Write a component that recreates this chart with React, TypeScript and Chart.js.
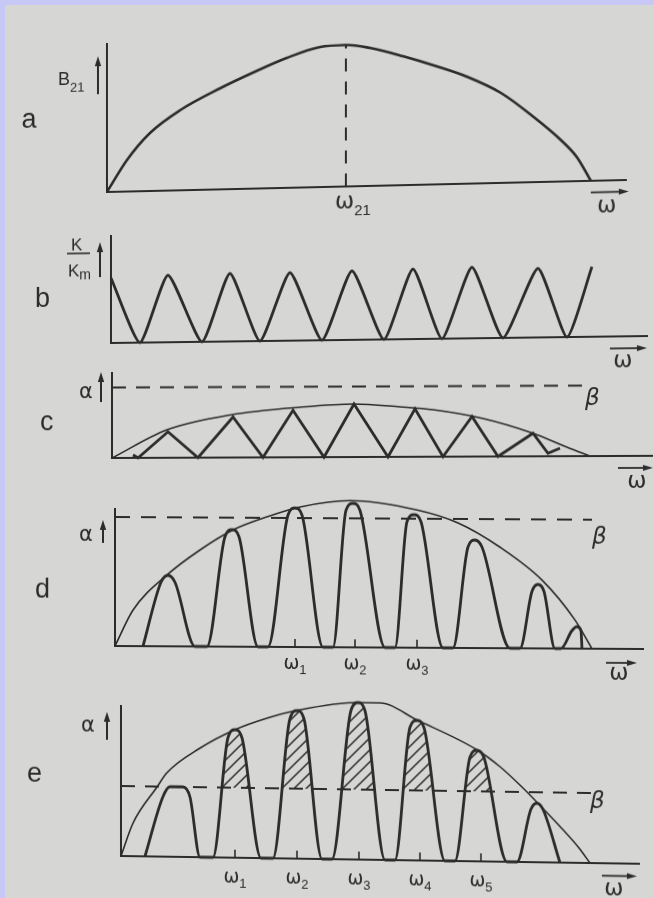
import { useEffect, useRef } from 'react';
import { Chart, registerables } from 'chart.js';

Chart.register(...registerables);

const PAGE_W = 654;
const PAGE_H = 898;
const INK = '#2c2c2c';
const PAPER = '#d6d6d4';
const FRAME = '#c8c8f6';
const SANS = '"Liberation Sans", Arial, sans-serif';
const GREEK = '"DejaVu Sans", sans-serif';

// (a) coupling B21 over ω
const aOmega = [0, 20, 43, 73, 113, 146, 180, 213, 239, 263, 296, 330, 360, 394, 427, 454, 470, 484];
const aB21 = [0, 31.5, 58, 80, 101, 116, 130, 140, 141.5, 138, 129, 118, 107, 90, 65, 41.5, 24, 0];

// (b) K/Km over ω
const bOmega = [0, 29, 57, 91, 119, 149, 179, 211, 241, 273, 302, 331, 361, 392, 427, 456, 481];
const bK = [65, 0, 67, 0, 68, 0, 68, 0, 69, 0, 70, 0, 71, 0, 69, 0, 70];

// (c) gain α, its envelope and the loss level β
const cOmega = [21, 26, 56, 86, 121, 151, 181, 212, 242, 276, 303, 331, 360, 386, 421, 436, 448];
const cAlpha = [3, 0, 26, 0, 40.5, 0, 47, 0, 53, 0, 48, 0, 40, 0, 23, 3, 8];
const cEnvOmega = [0, 55, 118, 188, 242, 288, 321, 371, 421, 455, 478];
const cEnv = [0, 28, 42.5, 50, 53, 50, 47, 38, 23, 9, 0];
const cBetaOmega = [0, 473];
const cBeta = [70.5, 70.5];

// (d)
const dOmega = [28, 46, 53, 60, 80, 92, 110, 117, 124, 143, 153, 173, 180, 187, 208, 218, 231, 238, 245, 270, 280, 292, 299, 306, 328, 338, 353, 360, 367, 395, 405, 417, 423, 429, 440, 446, 457, 462, 466, 467];
const dAlpha = [0, 64, 71, 64, 0, 0, 110, 117, 110, 0, 0, 132, 139, 132, 0, 0, 137, 144, 137, 0, 0, 126, 133, 126, 0, 0, 101, 108, 101, 0, 0, 57, 64, 57, 0, 0, 18, 22, 18, 0];
const dEnvOmega = [0, 18, 52, 85, 118, 152, 185, 235, 302, 343, 385, 427, 460, 477];
const dEnv = [0, 36, 71.3, 96.5, 116.7, 130, 140, 146.7, 137.7, 125, 101, 68.4, 28.6, 0];
const dBetaOmega = [0, 477];
const dBeta = [129, 129];
const dTicks = [180, 240, 302];
const dTickLabels = ['1', '2', '3'];

// (e)
const eOmega = [24, 42, 49, 62, 69, 79, 92, 107, 114, 121, 140, 152, 169, 176, 183, 201, 211, 230, 237, 244, 264, 274, 289, 296, 303, 324, 334, 349, 356, 363, 386, 396, 410, 416, 422, 439];
const eAlpha = [0, 60, 70, 70, 60, 0, 0, 120, 128, 120, 0, 0, 140, 148, 140, 0, 0, 149, 157, 149, 0, 0, 133, 140, 133, 0, 0, 104, 111, 104, 0, 0, 53, 59, 53, 0];
const eEnvOmega = [0, 12, 36, 46, 79, 114, 146, 175, 237, 259, 296, 356, 379, 400, 416, 441, 458, 469];
const eEnv = [0, 33, 69.5, 84, 109, 128, 140, 148, 157, 157, 140.4, 111.5, 95, 76, 60, 34, 15, 0];
const eBetaOmega = [0, 471];
const eBeta = [70, 70];
const eTicks = [114, 176, 238, 299, 360];
const eTickLabels = ['1', '2', '3', '4', '5'];

// where each panel's origin sits on the page, how long its axes are, and the slight lean of the print
const PANELS = [
  { x0: 107, y0: 192, lean: -0.0231, xEnd: 520, yTop: 149 },
  { x0: 111, y0: 343, lean: -0.013, xEnd: 537, yTop: 108 },
  { x0: 112, y0: 458, lean: -0.004, xEnd: 541, yTop: 86 },
  { x0: 115, y0: 646, lean: 0.0057, xEnd: 529, yTop: 138 },
  { x0: 121, y0: 856, lean: 0.015, xEnd: 519, yTop: 151 },
];

type Ctx = CanvasRenderingContext2D;

function pts(xs: number[], ys: number[]) {
  return xs.map((x, i) => ({ x, y: ys[i] }));
}

function txt(ctx: Ctx, s: string, x: number, y: number, font: string, align: CanvasTextAlign = 'left') {
  ctx.font = font;
  ctx.textAlign = align;
  ctx.textBaseline = 'alphabetic';
  ctx.fillStyle = INK;
  ctx.fillText(s, x, y);
}

function withSub(ctx: Ctx, main: string, sub: string, x: number, y: number, mainFont: string, subFont: string, drop: number, align: 'left' | 'center') {
  ctx.font = mainFont;
  const mw = ctx.measureText(main).width;
  ctx.font = subFont;
  const sw = ctx.measureText(sub).width;
  const left = align === 'center' ? x - (mw + sw) / 2 : x;
  txt(ctx, main, left, y, mainFont);
  txt(ctx, sub, left + mw, y + drop, subFont);
}

function arrowUp(ctx: Ctx, x: number, yBottom: number, yTop: number) {
  ctx.save();
  ctx.strokeStyle = INK;
  ctx.fillStyle = INK;
  ctx.lineWidth = 2;
  ctx.beginPath();
  ctx.moveTo(x, yBottom);
  ctx.lineTo(x, yTop + 6);
  ctx.stroke();
  ctx.beginPath();
  ctx.moveTo(x, yTop);
  ctx.lineTo(x - 3.2, yTop + 10);
  ctx.lineTo(x + 3.2, yTop + 10);
  ctx.closePath();
  ctx.fill();
  ctx.restore();
}

function arrowRight(ctx: Ctx, x1: number, x2: number, y: number) {
  ctx.save();
  ctx.strokeStyle = INK;
  ctx.fillStyle = INK;
  ctx.lineWidth = 1.8;
  ctx.beginPath();
  ctx.moveTo(x1, y);
  ctx.lineTo(x2 - 6, y);
  ctx.stroke();
  ctx.beginPath();
  ctx.moveTo(x2, y);
  ctx.lineTo(x2 - 10, y - 3);
  ctx.lineTo(x2 - 10, y + 3);
  ctx.closePath();
  ctx.fill();
  ctx.restore();
}

function makeHatch(): CanvasPattern | string {
  const s = 12;
  const c = document.createElement('canvas');
  c.width = s;
  c.height = s;
  const g = c.getContext('2d');
  if (!g) return 'rgba(0,0,0,0)';
  g.strokeStyle = INK;
  g.lineWidth = 1.5;
  g.beginPath();
  g.moveTo(-1, s + 1);
  g.lineTo(s + 1, -1);
  g.moveTo(-2, 2);
  g.lineTo(2, -2);
  g.moveTo(s - 2, s + 2);
  g.lineTo(s + 2, s - 2);
  g.stroke();
  const p = g.createPattern(c, 'repeat');
  return p ?? 'rgba(0,0,0,0)';
}

const LETTER = `27px ${SANS}`;
const OMEGA = `23px ${GREEK}`;
const OMEGA_TICK = `19px ${GREEK}`;
const SUB = `13px ${SANS}`;
const ALPHA = `21px ${GREEK}`;
const BETA = `italic 23px ${GREEK}`;

function curve(xs: number[], ys: number[], width: number, extra: Record<string, unknown> = {}) {
  return {
    data: pts(xs, ys),
    borderColor: INK,
    borderWidth: width,
    pointRadius: 0,
    fill: false,
    cubicInterpolationMode: 'monotone',
    ...extra,
  };
}

function dashed(xs: number[], ys: number[], dash: number[]) {
  return {
    data: pts(xs, ys),
    borderColor: INK,
    borderWidth: 2,
    borderDash: dash,
    pointRadius: 0,
    fill: false,
    tension: 0,
  };
}

type Decor = (ctx: Ctx, ox: number, oy: number, X: (v: number) => number) => void;

interface Spec {
  datasets: any[];
  ticks?: number[];
  tickLabels?: string[];
  tickDrop?: number;
  decor: Decor;
}

function buildSpecs(hatch: CanvasPattern | string): Spec[] {
  const iPeak = aB21.indexOf(Math.max(...aB21));
  const w21 = aOmega[iPeak];
  return [
    {
      datasets: [
        curve(aOmega, aB21, 2.6),
        dashed([w21, w21], [0, aB21[iPeak]], [13, 10]),
      ],
      decor: (ctx, ox, oy, X) => {
        txt(ctx, 'a', ox - 78, oy - 66, LETTER, 'center');
        withSub(ctx, 'B', '21', ox - 49, oy - 108, `18px ${SANS}`, SUB, 7, 'left');
        arrowUp(ctx, ox - 9, oy - 98, oy - 136);
        withSub(ctx, 'ω', '21', X(w21) - 11, oy + 21.5, OMEGA, `15px ${SANS}`, 7, 'left');
        txt(ctx, 'ω', ox + 500, oy + 31.6, OMEGA, 'center');
        arrowRight(ctx, ox + 484, ox + 522, oy + 11.6);
      },
    },
    {
      datasets: [curve(bOmega, bK, 2.8, { cubicInterpolationMode: 'default', tension: 0.18 })],
      decor: (ctx, ox, oy) => {
        txt(ctx, 'b', ox - 76, oy - 37, LETTER);
        txt(ctx, 'K', ox - 40, oy - 93, `17px ${SANS}`);
        ctx.save();
        ctx.strokeStyle = INK;
        ctx.lineWidth = 1.6;
        ctx.beginPath();
        ctx.moveTo(ox - 44, oy - 90);
        ctx.lineTo(ox - 21, oy - 90);
        ctx.stroke();
        ctx.restore();
        withSub(ctx, 'K', 'm', ox - 43, oy - 67, `17px ${SANS}`, `14px ${SANS}`, 3, 'left');
        arrowUp(ctx, ox - 11, oy - 66, oy - 101);
        txt(ctx, 'ω', ox + 512, oy + 31, OMEGA, 'center');
        arrowRight(ctx, ox + 499, ox + 536, oy + 12);
      },
    },
    {
      datasets: [
        curve(cEnvOmega, cEnv, 1.6),
        dashed(cBetaOmega, cBeta, [14, 10]),
        curve(cOmega, cAlpha, 2.8, { cubicInterpolationMode: 'default', tension: 0 }),
      ],
      decor: (ctx, ox, oy) => {
        txt(ctx, 'c', ox - 72, oy - 28, LETTER);
        txt(ctx, 'α', ox - 33, oy - 60, ALPHA);
        arrowUp(ctx, ox - 11, oy - 56, oy - 86);
        txt(ctx, 'β', ox + 473, oy - 51, BETA);
        txt(ctx, 'ω', ox + 525, oy + 32, OMEGA, 'center');
        arrowRight(ctx, ox + 506, ox + 541, oy + 12);
      },
    },
    {
      datasets: [
        curve(dEnvOmega, dEnv, 1.6),
        dashed(dBetaOmega, dBeta, [15, 11]),
        curve(dOmega, dAlpha, 2.8),
      ],
      ticks: dTicks,
      tickLabels: dTickLabels,
      tickDrop: 22,
      decor: (ctx, ox, oy) => {
        txt(ctx, 'd', ox - 80, oy - 48, LETTER);
        txt(ctx, 'α', ox - 36, oy - 105, ALPHA);
        arrowUp(ctx, ox - 12, oy - 103, oy - 126);
        txt(ctx, 'β', ox + 477, oy - 105, BETA);
        txt(ctx, 'ω', ox + 504, oy + 31, OMEGA, 'center');
        arrowRight(ctx, ox + 491, ox + 522, oy + 14);
      },
    },
    {
      datasets: [
        curve(eEnvOmega, eEnv, 1.6),
        dashed(eBetaOmega, eBeta, [14, 10]),
        curve(eOmega, eAlpha, 2.8, { fill: { target: 1, above: hatch, below: 'rgba(0,0,0,0)' } }),
      ],
      ticks: eTicks,
      tickLabels: eTickLabels,
      tickDrop: 25,
      decor: (ctx, ox, oy) => {
        txt(ctx, 'e', ox - 94, oy - 73, LETTER);
        txt(ctx, 'α', ox - 40, oy - 124, ALPHA);
        arrowUp(ctx, ox - 14, oy - 116, oy - 144);
        txt(ctx, 'β', ox + 469, oy - 55, BETA);
        txt(ctx, 'ω', ox + 493, oy + 32, OMEGA, 'center');
        arrowRight(ctx, ox + 481, ox + 516, oy + 12.5);
      },
    },
  ];
}

function makeChart(canvas: HTMLCanvasElement, spec: Spec, geom: (typeof PANELS)[number]) {
  const axes = {
    id: 'panelAxes',
    beforeDatasetsDraw(chart: Chart) {
      const { ctx } = chart;
      const x = chart.scales.x;
      const y = chart.scales.y;
      const ox = x.getPixelForValue(0);
      const oy = y.getPixelForValue(0);
      ctx.save();
      ctx.strokeStyle = INK;
      ctx.lineWidth = 2;
      ctx.beginPath();
      ctx.moveTo(ox, y.getPixelForValue(geom.yTop));
      ctx.lineTo(ox, oy);
      ctx.lineTo(x.getPixelForValue(geom.xEnd), oy);
      ctx.stroke();
      if (spec.ticks) {
        ctx.lineWidth = 1.6;
        ctx.beginPath();
        for (const t of spec.ticks) {
          const px = x.getPixelForValue(t);
          ctx.moveTo(px, oy);
          ctx.lineTo(px, oy - 8);
        }
        ctx.stroke();
      }
      ctx.restore();
    },
    afterDatasetsDraw(chart: Chart) {
      const { ctx } = chart;
      const x = chart.scales.x;
      const y = chart.scales.y;
      const ox = x.getPixelForValue(0);
      const oy = y.getPixelForValue(0);
      ctx.save();
      if (spec.ticks && spec.tickLabels) {
        spec.ticks.forEach((t, i) => {
          withSub(ctx, 'ω', spec.tickLabels![i], x.getPixelForValue(t), oy + (spec.tickDrop ?? 22), OMEGA_TICK, SUB, 5, 'center');
        });
      }
      spec.decor(ctx, ox, oy, (v) => x.getPixelForValue(v));
      ctx.restore();
    },
  };

  return new Chart(canvas, {
    type: 'line',
    data: { datasets: spec.datasets },
    options: {
      responsive: false,
      animation: false,
      events: [],
      layout: { padding: 0 },
      plugins: {
        legend: { display: false },
        tooltip: { enabled: false },
      },
      elements: { point: { radius: 0 }, line: { capBezierPoints: false } },
      scales: {
        x: { type: 'linear', display: false, min: -geom.x0, max: PAGE_W - geom.x0 },
        y: { type: 'linear', display: false, min: -(PAGE_H - geom.y0), max: geom.y0 },
      },
    } as any,
    plugins: [axes],
  });
}

export default function App() {
  const refs = useRef<(HTMLCanvasElement | null)[]>([]);

  useEffect(() => {
    const hatch = makeHatch();
    const specs = buildSpecs(hatch);
    const charts = specs.map((s, i) => makeChart(refs.current[i] as HTMLCanvasElement, s, PANELS[i]));
    return () => charts.forEach((c) => c.destroy());
  }, []);

  return (
    <div
      style={{
        position: 'absolute',
        left: 0,
        top: 0,
        width: PAGE_W,
        height: PAGE_H,
        background: FRAME,
        overflow: 'hidden',
      }}
    >
      <div style={{ position: 'absolute', left: 5, top: 5, right: 0, bottom: 0, background: PAPER }} />
      {PANELS.map((g, i) => (
        <canvas
          key={i}
          ref={(el) => {
            refs.current[i] = el;
          }}
          width={PAGE_W}
          height={PAGE_H}
          style={{
            position: 'absolute',
            left: 0,
            top: 0,
            transform: `skewY(${(Math.atan(g.lean) * 180) / Math.PI}deg)`,
            transformOrigin: `${g.x0}px ${g.y0}px`,
          }}
        />
      ))}
    </div>
  );
}
